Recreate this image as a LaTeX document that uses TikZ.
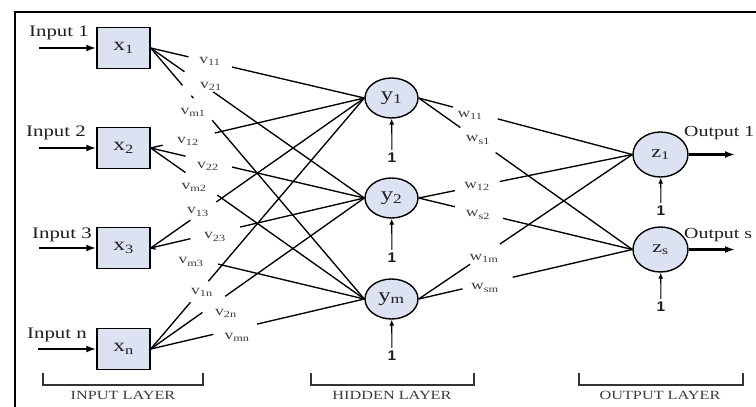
\documentclass[tikz,border=0pt]{standalone}
\usepackage{fontspec}
\setmainfont{Liberation Serif}[FakeStretch=1.3]
\newfontfamily\biasfont{Liberation Sans}[FakeStretch=1.1]
\usetikzlibrary{shapes.geometric,arrows.meta,calc}

\definecolor{unitfill}{RGB}{220,226,241}
\definecolor{inktext}{RGB}{30,30,30}
\definecolor{smalltext}{RGB}{60,60,60}

\tikzset{
  inunit/.style={draw=black, line width=1.4pt, fill=unitfill, minimum width=53pt,
    minimum height=41pt, inner sep=0pt, text=inktext, font=\fontsize{18}{18}\selectfont},
  neuron/.style={ellipse, draw=black, line width=1.4pt, fill=unitfill, minimum width=53pt,
    minimum height=40pt, inner sep=0pt, text=inktext, font=\fontsize{19}{19}\selectfont},
  outneuron/.style={neuron, minimum width=55pt, minimum height=45pt, font=\fontsize{17}{17}\selectfont},
  conn/.style={line width=1.35pt, black},
  wlabel/.style={inner sep=0pt, text=smalltext, font=\fontsize{13.5}{13.5}\selectfont},
  iolabel/.style={inner sep=0pt, text=inktext, font=\fontsize{16}{16}\selectfont},
  biaslabel/.style={inner sep=3pt, text=inktext, font=\biasfont\bfseries\fontsize{14}{14}\selectfont},
  layerlabel/.style={inner sep=0pt, text=smalltext, font=\fontsize{12.5}{12.5}\selectfont},
  thickarrow/.style={line width=2.8pt, -{Latex[length=10pt,width=7pt]}},
  biasarrow/.style={line width=1.1pt, -{Latex[length=6pt,width=5pt]}},
  bracketline/.style={line width=1.5pt, black!80},
}

% a weighted connection, broken where its weight label sits
\newcommand\netwire[4]{\draw[conn] (#1) -- ($(#1)!#3!(#2)$) ($(#1)!#4!(#2)$) -- (#2);}

\begin{document}
\begin{tikzpicture}[x=1pt,y=-1pt]
\useasboundingbox (0,0) rectangle (756,407);
\fill[white] (0,0) rectangle (756,407);

% frame
\draw[line width=2.6pt] (15,407) -- (15,12) -- (756,12);

% input units
\node[inunit] (x1) at (123.5,48) {x\textsubscript{1}};
\node[inunit] (x2) at (123.5,148) {x\textsubscript{2}};
\node[inunit] (x3) at (123.5,248) {x\textsubscript{3}};
\node[inunit] (xn) at (123.5,349) {x\textsubscript{n}};

% hidden units
\node[neuron] (y1) at (391.5,98) {y\textsubscript{1}};
\node[neuron] (y2) at (391.5,198) {y\textsubscript{2}};
\node[neuron] (ym) at (391.5,299) {y\textsubscript{m}};

% output units
\node[outneuron] (z1) at (660.5,154.5) {z\textsubscript{1}};
\node[outneuron] (zs) at (660.5,249.5) {z\textsubscript{s}};

% inputs
\node[iolabel] (lin1) at (59,33) {Input 1};
\node[iolabel] (lin2) at (56,133) {Input 2};
\node[iolabel] (lin3) at (62,235) {Input 3};
\node[iolabel] (linn) at (57,335) {Input n};
\coordinate (s1) at (39,48);
\coordinate (s2) at (39,148);
\coordinate (s3) at (39,248);
\coordinate (sn) at (38,349);
\draw[thickarrow] (s1) -- (x1);
\draw[thickarrow] (s2) -- (x2);
\draw[thickarrow] (s3) -- (x3);
\draw[thickarrow] (sn) -- (xn);

% outputs
\node[iolabel, anchor=west, font=\fontsize{15.3}{15.3}\selectfont] (lout1) at (684,133) {Output 1};
\node[iolabel, anchor=west, font=\fontsize{15.3}{15.3}\selectfont] (louts) at (684,235) {Output s};
\coordinate (t1) at (735,154.5);
\coordinate (ts) at (735,249.5);
\draw[thickarrow] (z1) -- (t1);
\draw[thickarrow] (zs) -- (ts);

% input -> hidden weights
\netwire{x1.east}{y1.west}{0.177}{0.381}
\netwire{x1.east}{y2.west}{0.158}{0.293}
\netwire{x1.east}{ym.west}{0.149}{0.288}
\draw[conn] ($(x1.east)!0.19!(ym.west)$) -- ($(x1.east)!0.2!(ym.west)$);
\netwire{x2.east}{y1.west}{0.056}{0.30}
\netwire{x2.east}{y2.west}{0.163}{0.381}
\netwire{x2.east}{ym.west}{0.163}{0.312}
\netwire{x3.east}{y1.west}{0.186}{0.307}
\netwire{x3.east}{y2.west}{0.186}{0.419}
\netwire{x3.east}{ym.west}{0.023}{0.316}
\netwire{xn.east}{y1.west}{0.186}{0.27}
\netwire{xn.east}{y2.west}{0.242}{0.349}
\netwire{xn.east}{ym.west}{0.293}{0.498}

\node[wlabel] (v11) at (210,61) {v\textsubscript{11}};
\node[wlabel] (v21) at (211,86) {v\textsubscript{21}};
\node[wlabel] (vm1) at (193,112) {v\textsubscript{m1}};
\node[wlabel] (v12) at (188,141) {v\textsubscript{12}};
\node[wlabel] (v22) at (208,166) {v\textsubscript{22}};
\node[wlabel] (vm2) at (194,187) {v\textsubscript{m2}};
\node[wlabel] (v13) at (198,212) {v\textsubscript{13}};
\node[wlabel] (v23) at (215,237) {v\textsubscript{23}};
\node[wlabel] (vm3) at (191,262) {v\textsubscript{m3}};
\node[wlabel] (v1n) at (202,292) {v\textsubscript{1n}};
\node[wlabel] (v2n) at (226,313) {v\textsubscript{2n}};
\node[wlabel] (vmn) at (237,337) {v\textsubscript{mn}};

% hidden -> output weights
\netwire{y1.east}{z1.west}{0.16}{0.37}
\netwire{y1.east}{zs.west}{0.195}{0.36}
\netwire{y2.east}{z1.west}{0.17}{0.38}
\netwire{y2.east}{zs.west}{0.17}{0.395}
\netwire{ym.east}{z1.west}{0.24}{0.38}
\netwire{ym.east}{zs.west}{0.205}{0.44}

\node[wlabel] (w11) at (470,115) {w\textsubscript{11}};
\node[wlabel] (ws1) at (478,140) {w\textsubscript{s1}};
\node[wlabel] (w12) at (477,186) {w\textsubscript{12}};
\node[wlabel] (ws2) at (478,215) {w\textsubscript{s2}};
\node[wlabel] (w1m) at (484,258) {w\textsubscript{1m}};
\node[wlabel] (wsm) at (485,288) {w\textsubscript{sm}};

% bias inputs
\node[biaslabel] (by1) at (392,158) {1};
\node[biaslabel] (by2) at (392,258) {1};
\node[biaslabel] (bym) at (392,356) {1};
\node[biaslabel] (bz1) at (661,211) {1};
\node[biaslabel] (bzs) at (661,307) {1};
\draw[biasarrow] (by1) -- (y1);
\draw[biasarrow] (by2) -- (y2);
\draw[biasarrow] (bym) -- (ym);
\draw[biasarrow] (bz1) -- (z1);
\draw[biasarrow] (bzs) -- (zs);

% layer brackets
\draw[bracketline] (43,373) -- (43,385) -- (203,385) -- (203,373);
\draw[bracketline] (311,373) -- (311,385) -- (474,385) -- (474,373);
\draw[bracketline] (579,373) -- (579,385) -- (743,385) -- (743,373);
\node[layerlabel] (lin) at (123,395) {INPUT LAYER};
\node[layerlabel] (lhid) at (392,395) {HIDDEN LAYER};
\node[layerlabel] (lout) at (660,395) {OUTPUT LAYER};
\end{tikzpicture}
\end{document}
